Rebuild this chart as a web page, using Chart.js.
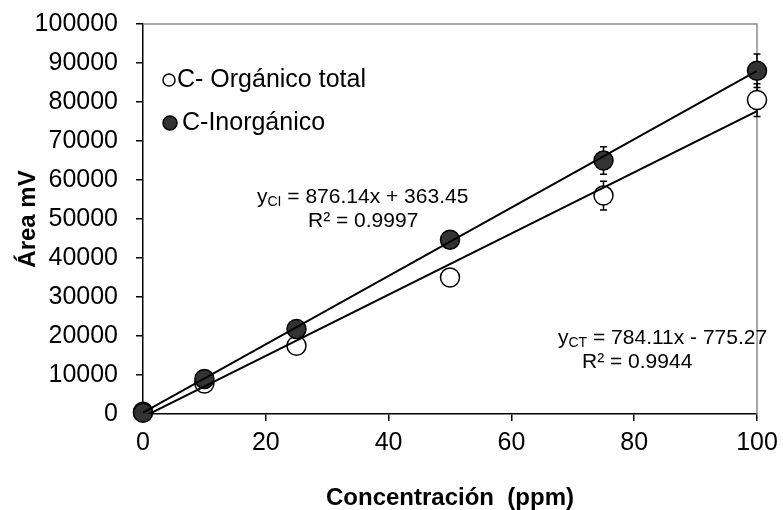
<!DOCTYPE html>
<html><head><meta charset="utf-8">
<script src="https://cdn.jsdelivr.net/npm/chart.js@4/dist/chart.umd.min.js"></script>
<style>html,body{margin:0;padding:0;background:#fff}#wrap{width:783px;height:510px}</style>
</head><body><div id="wrap"><canvas id="c" width="783" height="510"></canvas></div>
<script>
// ---- data ----
const concentrations = [0, 10, 25, 50, 75, 100];
const organicTotal   = [600, 7800, 17500, 35000, 56000, 80500];
const organicErr     = [0, 0, 0, 0, 3700, 4200];
const inorganic      = [300, 9000, 21800, 44700, 65000, 88000];
const inorganicErr   = [0, 0, 0, 2200, 3500, 4300];
const trendX   = [0, 100];
const trendCI  = [363.45, 87977.45];
const trendCT  = [-775.27, 77635.73];
const xTicks = [0, 20, 40, 60, 80, 100];
const yTicks = [0, 10000, 20000, 30000, 40000, 50000, 60000, 70000, 80000, 90000, 100000];
const seriesNames = ['C- Orgánico total', 'C-Inorgánico'];
const eqCI = ['y', 'CI', ' = 876.14x + 363.45', 'R² = 0.9997'];
const eqCT = ['y', 'CT', ' = 784.11x - 775.27', 'R² = 0.9944'];
const xTitle = 'Concentración  (ppm)';
const yTitle = 'Área mV';

const FONT = '"Liberation Sans", Arial, sans-serif';
const FILL_DARK = '#333333';

const pts = (xs, ys) => xs.map((x, i) => ({x: x, y: ys[i]}));

const decor = {
  id: 'decor',
  beforeDatasetsDraw(chart) {
    const {ctx, chartArea: a, scales: {x, y}} = chart;
    ctx.save();
    ctx.strokeStyle = '#8c8c8c';
    ctx.lineWidth = 1.5;
    ctx.beginPath();
    ctx.moveTo(a.left, a.top); ctx.lineTo(a.right, a.top); ctx.lineTo(a.right, a.bottom);
    ctx.stroke();
    ctx.strokeStyle = '#000';
    ctx.lineWidth = 1.5;
    const bars = (vals, errs) => {
      concentrations.forEach((c, i) => {
        const e = errs[i];
        if (!e) return;
        const px = x.getPixelForValue(c);
        const yt = y.getPixelForValue(vals[i] + e);
        const yb = y.getPixelForValue(vals[i] - e);
        ctx.beginPath();
        ctx.moveTo(px, yt); ctx.lineTo(px, yb);
        ctx.moveTo(px - 3.5, yt); ctx.lineTo(px + 3.5, yt);
        ctx.moveTo(px - 3.5, yb); ctx.lineTo(px + 3.5, yb);
        ctx.stroke();
      });
    };
    bars(organicTotal, organicErr);
    bars(inorganic, inorganicErr);
    ctx.restore();
  },
  afterDraw(chart) {
    const {ctx} = chart;
    ctx.save();
    ctx.textBaseline = 'middle';
    ctx.textAlign = 'left';
    ctx.font = '25px ' + FONT;
    ctx.lineWidth = 1.5;
    ctx.strokeStyle = '#000';
    ctx.beginPath(); ctx.arc(169, 80, 6, 0, Math.PI * 2);
    ctx.fillStyle = '#fff'; ctx.fill(); ctx.stroke();
    ctx.fillStyle = '#000';
    ctx.fillText(seriesNames[0], 177, 80);
    ctx.beginPath(); ctx.arc(170, 123, 7, 0, Math.PI * 2);
    ctx.fillStyle = FILL_DARK; ctx.fill(); ctx.stroke();
    ctx.fillStyle = '#000';
    ctx.fillText(seriesNames[1], 182, 123);
    const eq = (parts, x0, y0, rx, ry) => {
      ctx.font = '21px ' + FONT;
      ctx.fillText(parts[0], x0, y0);
      let xx = x0 + ctx.measureText(parts[0]).width;
      ctx.font = '14px ' + FONT;
      ctx.fillText(parts[1], xx, y0 + 5);
      xx += ctx.measureText(parts[1]).width;
      ctx.font = '21px ' + FONT;
      ctx.fillText(parts[2], xx, y0);
      ctx.fillText(parts[3], rx, ry);
    };
    eq(eqCI, 257, 197, 308, 221);
    eq(eqCT, 558, 338, 582, 362);
    ctx.restore();
  }
};

new Chart(document.getElementById('c'), {
  type: 'scatter',
  data: {
    datasets: [
      {label: 'trend CI', type: 'line', data: pts(trendX, trendCI), borderColor: '#000', borderWidth: 2,
       pointRadius: 0, fill: false, order: 0},
      {label: 'trend CT', type: 'line', data: pts(trendX, trendCT), borderColor: '#000', borderWidth: 2,
       pointRadius: 0, fill: false, order: 0},
      {label: seriesNames[1], data: pts(concentrations, inorganic), backgroundColor: FILL_DARK,
       borderColor: '#000', borderWidth: 1.5, pointRadius: 9.5, pointHoverRadius: 9.5, clip: false, order: 1},
      {label: seriesNames[0], data: pts(concentrations, organicTotal), backgroundColor: '#fff',
       borderColor: '#000', borderWidth: 1.5, pointRadius: 9.5, pointHoverRadius: 9.5, clip: false, order: 2}
    ]
  },
  options: {
    responsive: false,
    devicePixelRatio: 1,
    animation: false,
    layout: {padding: {left: 0, top: 24, right: 26, bottom: 0}},
    plugins: {legend: {display: false}, tooltip: {enabled: false}},
    scales: {
      x: {
        type: 'linear', min: 0, max: 100,
        afterBuildTicks: s => { s.ticks = xTicks.map(v => ({value: v})); },
        afterFit: s => { s.height = 96; s.paddingLeft = 0; s.paddingRight = 0; },
        ticks: {color: '#000', font: {family: FONT, size: 25}, padding: 7, callback: v => String(v)},
        grid: {drawOnChartArea: false, drawTicks: true, tickLength: 7, color: '#000', lineWidth: 1.5},
        border: {display: true, color: '#000', width: 1.5},
        title: {display: true, text: xTitle, color: '#000',
                font: {family: FONT, size: 24, weight: 'bold', lineHeight: 1.0},
                padding: {top: 0, bottom: 0}}
      },
      y: {
        type: 'linear', min: 0, max: 100000,
        afterBuildTicks: s => { s.ticks = yTicks.map(v => ({value: v})); },
        afterFit: s => { s.width = 143; s.paddingTop = 0; s.paddingBottom = 0; },
        ticks: {color: '#000', font: {family: FONT, size: 25}, padding: 18, callback: v => String(v)},
        grid: {drawOnChartArea: false, drawTicks: true, tickLength: 7, color: '#000', lineWidth: 1.5},
        border: {display: true, color: '#000', width: 1.5},
        title: {display: true, text: yTitle, color: '#000',
                font: {family: FONT, size: 24, weight: 'bold', lineHeight: 1.2},
                padding: {top: 14, bottom: 0}}
      }
    }
  },
  plugins: [decor]
});
</script></body></html>
